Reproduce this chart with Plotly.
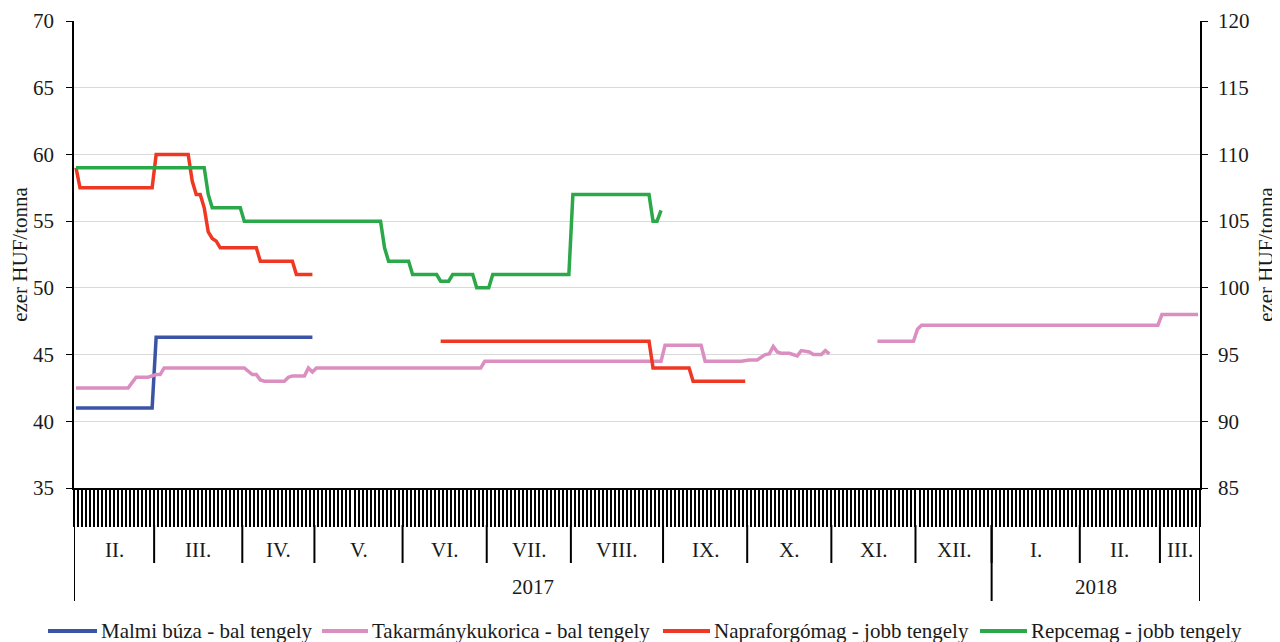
import pandas as pd
import plotly.graph_objects as go

# ---------------- categories (trading days) ----------------
START = "2017-02-01"
END = "2018-03-14"
HOLIDAYS = ["2017-03-15", "2017-04-14", "2017-04-17", "2017-05-01", "2017-06-05",
            "2017-10-23", "2017-11-01", "2017-12-25", "2017-12-26", "2018-01-01"]
MONTH_LABELS = ["II.", "III.", "IV.", "V.", "VI.", "VII.", "VIII.", "IX.", "X.",
                "XI.", "XII.", "I.", "II.", "III."]
YEAR_LABELS = ["2017", "2018"]

# ---------------- series ----------------
BUZA_X = ["2017-02-01", "2017-02-28", "2017-03-01", "2017-04-28"]
BUZA_Y = [41, 41, 46.3, 46.3]

KUKORICA_X = ["2017-02-01", "2017-02-20", "2017-02-21", "2017-02-22", "2017-02-27", "2017-02-28",
              "2017-03-01", "2017-03-02", "2017-03-03", "2017-04-03", "2017-04-05", "2017-04-06",
              "2017-04-07", "2017-04-10", "2017-04-19", "2017-04-20", "2017-04-21", "2017-04-26",
              "2017-04-27", "2017-04-28", "2017-05-02", "2017-06-29", "2017-06-30", "2017-08-31",
              "2017-09-01", "2017-09-14", "2017-09-15", "2017-09-28", "2017-10-02", "2017-10-04",
              "2017-10-05", "2017-10-06", "2017-10-09", "2017-10-10", "2017-10-11", "2017-10-12",
              "2017-10-16", "2017-10-17", "2017-10-18", "2017-10-19", "2017-10-20", "2017-10-24",
              "2017-10-25", "2017-10-27", "2017-10-30", "2017-10-31", "2017-11-02", "2017-11-17",
              "2017-11-30", "2017-12-01", "2017-12-04", "2018-02-28", "2018-03-01", "2018-03-14"]
KUKORICA_Y = [42.5, 42.5, 42.9, 43.3, 43.3, 43.4,
              43.5, 43.5, 44.0, 44.0, 43.5, 43.5,
              43.1, 43.0, 43.0, 43.3, 43.4, 43.4,
              44.0, 43.7, 44.0, 44.0, 44.5, 44.5,
              45.7, 45.7, 44.5, 44.5, 44.6, 44.6,
              44.8, 45.0, 45.05, 45.6, 45.2, 45.1,
              45.1, 45.0, 44.9, 45.3, 45.25, 45.2,
              45.0, 45.0, 45.3, 45.05, None, 46.0,
              46.0, 46.9, 47.2, 47.2, 48.0, 48.0]

NAPRA_X = ["2017-02-01", "2017-02-02", "2017-02-28", "2017-03-01", "2017-03-13", "2017-03-14",
           "2017-03-16", "2017-03-17", "2017-03-20", "2017-03-21", "2017-03-22", "2017-03-23",
           "2017-03-24", "2017-04-06", "2017-04-07", "2017-04-21", "2017-04-24", "2017-04-28",
           "2017-05-02", "2017-06-15", "2017-08-28", "2017-08-29", "2017-09-11", "2017-09-12",
           "2017-09-29"]
NAPRA_Y = [109, 107.5, 107.5, 110, 110, 108,
           107, 107, 106, 104.2, 103.7, 103.5,
           103, 103, 102, 102, 101, 101,
           None, 96, 96, 94, 94, 93,
           93]

REPCE_X = ["2017-02-01", "2017-03-20", "2017-03-21", "2017-03-22", "2017-03-31", "2017-04-03",
           "2017-05-24", "2017-05-25", "2017-05-26", "2017-06-02", "2017-06-06", "2017-06-14",
           "2017-06-15", "2017-06-19", "2017-06-20", "2017-06-27", "2017-06-28", "2017-07-03",
           "2017-07-04", "2017-07-31", "2017-08-01", "2017-08-28", "2017-08-29", "2017-08-30",
           "2017-08-31"]
REPCE_Y = [109, 109, 107, 106, 106, 105,
           105, 103, 102, 102, 101, 101,
           100.5, 100.5, 101, 101, 100, 100,
           101, 101, 107, 107, 105, 105,
           105.8]

NAMES = ["Malmi búza - bal tengely", "Takarmánykukorica - bal tengely",
         "Napraforgómag - jobb tengely", "Repcemag - jobb tengely"]
COLORS = ["#3C54A5", "#DB8FC1", "#EE3824", "#2BA84A"]

FONT = "Liberation Serif"
FS = 21
TXT = "#1a1a1a"

days = [d.strftime("%Y-%m-%d") for d in pd.bdate_range(START, END)
        if d.strftime("%Y-%m-%d") not in HOLIDAYS]
n = len(days)

fig = go.Figure()
series = [(BUZA_X, BUZA_Y, "y"), (KUKORICA_X, KUKORICA_Y, "y"),
          (NAPRA_X, NAPRA_Y, "y2"), (REPCE_X, REPCE_Y, "y2")]
for (xs, ys, ax), name, col in zip(series, NAMES, COLORS):
    fig.add_trace(go.Scatter(x=xs, y=ys, name=name, mode="lines", yaxis=ax,
                             line=dict(color=col, width=3.5), connectgaps=False,
                             showlegend=False))

# page geometry (the page body has an 8px default margin)
OFF = 8
PW, PH = 1280, 642
FW, FH = PW - OFF, PH - OFF
T, B, L, R = 21, 488, 74, 1200   # plot area, page pixels
H = B - T
W = R - L


def yp(py):
    return (B - py) / H


def xp(px):
    return (px - L) / W


shapes = []
annotations = []
tf = dict(family=FONT, size=FS, color=TXT)

# month boundaries
starts = [i for i, d in enumerate(days) if i == 0 or d[:7] != days[i - 1][:7]]
ends = starts[1:] + [n]
for k, (s, e) in enumerate(zip(starts, ends)):
    if s > 0:
        shapes.append(dict(type="line", xref="x", yref="paper", x0=s - 0.5, x1=s - 0.5,
                           y0=yp(525), y1=yp(563), line=dict(color="black", width=2)))
    annotations.append(dict(x=(s + e - 1) / 2, y=yp(550), xref="x", yref="paper",
                            text=MONTH_LABELS[k], showarrow=False, font=tf,
                            xanchor="center", yanchor="middle"))

# year boundaries
ystarts = [i for i, d in enumerate(days) if i == 0 or d[:4] != days[i - 1][:4]]
yends = ystarts[1:] + [n]
for k, (s, e) in enumerate(zip(ystarts, yends)):
    shapes.append(dict(type="line", xref="x", yref="paper", x0=s - 0.5, x1=s - 0.5,
                       y0=yp(488 if s == 0 else 525), y1=yp(601),
                       line=dict(color="black", width=2)))
    annotations.append(dict(x=(s + e - 1) / 2, y=yp(587), xref="x", yref="paper",
                            text=YEAR_LABELS[k], showarrow=False, font=tf,
                            xanchor="center", yanchor="middle"))
shapes.append(dict(type="line", xref="x", yref="paper", x0=n - 0.5, x1=n - 0.5,
                   y0=yp(488), y1=yp(601), line=dict(color="black", width=2)))

# manual legend
leg_lines = [(48, 97), (322, 368), (663, 710), (980, 1027)]
for (a, b), name, col in zip(leg_lines, NAMES, COLORS):
    shapes.append(dict(type="line", xref="paper", yref="paper", x0=xp(a), x1=xp(b),
                       y0=yp(631), y1=yp(631), line=dict(color=col, width=4)))
    annotations.append(dict(x=xp(b + 2), y=yp(631), xref="paper", yref="paper",
                            text=name, showarrow=False, xanchor="left", yanchor="middle",
                            font=tf))

fig.update_layout(
    width=FW, height=FH,
    margin=dict(l=L - OFF, r=FW - (R - OFF), t=T - OFF, b=FH - (B - OFF), autoexpand=False),
    paper_bgcolor="white", plot_bgcolor="white",
    font=tf,
    showlegend=False,
    shapes=shapes, annotations=annotations,
    xaxis=dict(type="category", categoryorder="array", categoryarray=days,
               range=[-0.5, n - 0.5], tickmode="linear", tick0=0, dtick=1,
               tickson="boundaries", ticks="outside", ticklen=37, tickwidth=1.8,
               tickcolor="black", showticklabels=False, showgrid=False,
               showline=True, linecolor="black", linewidth=1.5, zeroline=False,
               automargin=False),
    yaxis=dict(range=[35, 70], dtick=5, tick0=35, showgrid=True, gridcolor="#d9d9d9",
               gridwidth=1, showline=True, linecolor="black", linewidth=1.5,
               ticks="outside", ticklen=6, tickcolor="black", zeroline=False,
               ticklabelstandoff=8, tickfont=tf, automargin=False,
               title=dict(text="ezer HUF/tonna", font=tf, standoff=8)),
    yaxis2=dict(range=[85, 120], dtick=5, tick0=85, overlaying="y", side="right",
                showgrid=False, showline=True, linecolor="black", linewidth=1.5,
                ticks="outside", ticklen=6, tickcolor="black", zeroline=False,
                ticklabelstandoff=6, tickfont=tf, automargin=False,
                title=dict(text="ezer HUF/tonna", font=tf, standoff=10)),
)

fig.write_html("out.html")
